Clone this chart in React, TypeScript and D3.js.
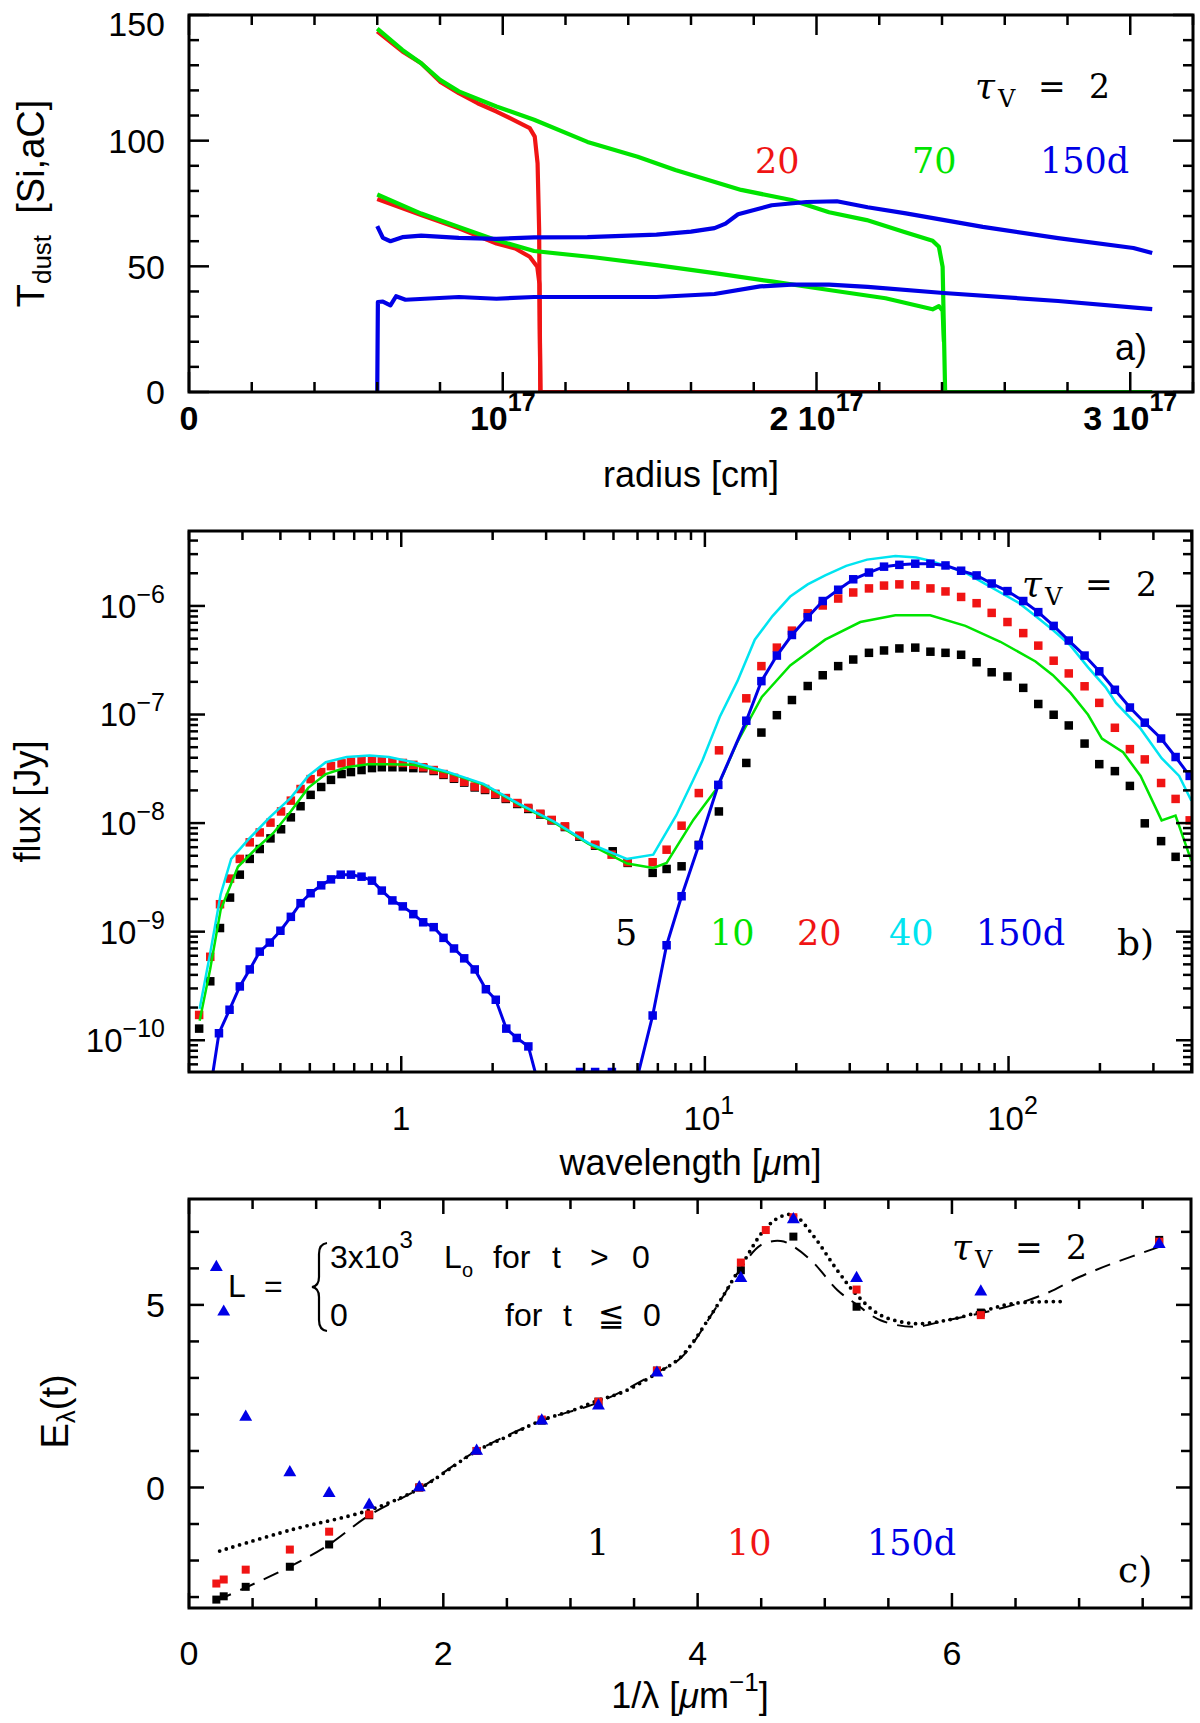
import React from "react";
import * as d3 from "d3";

type Pt = [number, number];
type Frame = { l: number; r: number; t: number; b: number };
type Tick = { p: number; major: boolean };

// ---------- panel a: dust temperature vs radius (radius in 1e17 cm) ----------
const tRed20Upper: Pt[] = [
  [0.6, 143.5], [0.68, 135.5], [0.74, 130.8], [0.8, 123.5], [0.86, 118.9], [0.92, 114.9],
  [0.98, 111.6], [1.045, 107.6], [1.086, 105], [1.102, 101.6], [1.111, 91], [1.116, 64.5],
  [1.118, 25], [1.12, 0], [2.4, 0],
];
const tRed20Lower: Pt[] = [
  [0.6, 76.8], [0.74, 70.4], [0.86, 65.1], [0.98, 59.1], [1.04, 57.1], [1.086, 53.8],
  [1.11, 49.8], [1.117, 43], [1.12, 0],
];
const tGreen70Upper: Pt[] = [
  [0.6, 144.6], [0.68, 136.1], [0.74, 130.8], [0.8, 124.2], [0.86, 119.6], [0.98, 113.6],
  [1.1, 108.3], [1.27, 99.5], [1.43, 93.6], [1.55, 88.3], [1.76, 80.4], [1.92, 76.4],
  [2.04, 71.5], [2.16, 68.4], [2.28, 63.7], [2.37, 60.2], [2.39, 57.8], [2.402, 49.8],
  [2.41, 0], [3.07, 0],
];
const tGreen70Lower: Pt[] = [
  [0.6, 78.6], [0.74, 71], [0.86, 65.7], [0.98, 60.4], [1.1, 56.1], [1.29, 53.6],
  [1.49, 50.5], [1.675, 47.3], [1.857, 44], [2.04, 40.6], [2.22, 37.3], [2.37, 32.9],
  [2.39, 34.2], [2.402, 32.4], [2.406, 20],
];
const tBlue150Upper: Pt[] = [
  [0.6, 66], [0.618, 61.3], [0.642, 60], [0.68, 61.6], [0.74, 62.2], [0.86, 61.3],
  [0.98, 60.9], [1.1, 61.5], [1.27, 61.6], [1.49, 62.6], [1.6, 63.8], [1.675, 65.2],
  [1.71, 67], [1.75, 70.7], [1.857, 74.3], [1.968, 75.6], [2.065, 75.9], [2.163, 73.5],
  [2.285, 71.1], [2.53, 65.7], [2.77, 61.2], [3.01, 57.3], [3.07, 55.3],
];
const tBlue150Lower: Pt[] = [
  [0.6, 0], [0.602, 35.8], [0.618, 36], [0.642, 34.5], [0.66, 38.1], [0.69, 36.7],
  [0.86, 37.8], [0.98, 37.1], [1.1, 37.8], [1.27, 37.8], [1.49, 37.8], [1.675, 39],
  [1.82, 42], [1.92, 42.7], [2.04, 42.7], [2.163, 41.8], [2.405, 39.4], [2.77, 36.2],
  [3.07, 33],
];
const radiusTicks = d3.range(0, 3.2001, 0.2);
const tempTicks = d3.range(0, 150.1, 10);

// ---------- panel b: flux [Jy] vs wavelength [um] ----------
const fBlack5d: Pt[] = [
  [0.216, 1.28e-10], [0.235, 3.49e-10], [0.253, 1.08e-9], [0.273, 2.06e-9], [0.294, 3.35e-9],
  [0.317, 4.68e-9], [0.342, 5.77e-9], [0.371, 7.23e-9], [0.402, 8.77e-9], [0.433, 1.13e-8],
  [0.466, 1.43e-8], [0.503, 1.82e-8], [0.545, 2.15e-8], [0.587, 2.5e-8], [0.636, 2.83e-8],
  [0.683, 2.95e-8], [0.74, 3.08e-8], [0.801, 3.21e-8], [0.863, 3.27e-8], [0.935, 3.27e-8],
  [1.012, 3.27e-8], [1.096, 3.21e-8], [1.181, 3.2e-8], [1.279, 3.02e-8], [1.378, 2.78e-8],
  [1.492, 2.56e-8], [1.612, 2.36e-8], [1.746, 2.13e-8], [1.888, 2.02e-8], [2.04, 1.83e-8],
  [2.21, 1.67e-8], [2.41, 1.5e-8], [2.62, 1.35e-8], [2.87, 1.2e-8], [3.13, 1.06e-8],
  [3.46, 9.2e-9], [3.86, 7.5e-9], [4.35, 6.2e-9], [4.97, 5.5e-9], [5.57, 4.3e-9],
  [6.73, 3.48e-9], [7.48, 3.78e-9], [8.38, 4.0e-9], [9.55, 6.3e-9], [11.12, 1.28e-8],
  [13.69, 3.58e-8], [15.35, 6.82e-8], [17.26, 9.86e-8], [19.35, 1.36e-7], [21.81, 1.83e-7],
  [24.44, 2.3e-7], [27.48, 2.79e-7], [30.8, 3.21e-7], [34.7, 3.7e-7], [38.9, 3.89e-7],
  [43.7, 4.06e-7], [49.3, 4.13e-7], [55.3, 3.79e-7], [62, 3.7e-7], [69.8, 3.55e-7],
  [78.5, 3.03e-7], [88, 2.45e-7], [99.2, 2.24e-7], [111.8, 1.76e-7], [125.3, 1.25e-7],
  [140.8, 9.95e-8], [157.9, 7.93e-8], [178, 5.4e-8], [199, 3.49e-8], [224, 3.01e-8],
  [251, 2.2e-8], [281, 9.95e-9], [318, 6.82e-9], [355, 4.89e-9],
];
const fGreen10d: Pt[] = [
  [0.2168, 1.51e-10], [0.2347, 4.49e-10], [0.2542, 1.58e-9], [0.2899, 3.96e-9], [0.3316, 5.77e-9],
  [0.3787, 8.07e-9], [0.4325, 1.28e-8], [0.494, 2.11e-8], [0.5642, 2.83e-8], [0.6615, 3.27e-8],
  [0.7762, 3.49e-8], [0.9102, 3.49e-8], [1.096, 3.44e-8], [1.43, 2.9e-8], [1.866, 2.26e-8],
  [2.433, 1.49e-8], [3.174, 1.02e-8], [4.14, 6.44e-9], [5.546, 4.24e-9], [6.76, 3.86e-9],
  [7.48, 4.3e-9], [9.16, 1.07e-8], [10.97, 2.1e-8], [12.8, 5.6e-8], [15.4, 1.45e-7],
  [19.1, 2.83e-7], [24.9, 4.89e-7], [32.5, 7.11e-7], [42.4, 8.2e-7], [55.2, 8.2e-7],
  [72.1, 6.55e-7], [94, 4.68e-7], [122.7, 3.08e-7], [140, 2.3e-7], [160, 1.58e-7],
  [182.8, 9.95e-8], [203, 6.01e-8], [238.4, 4.49e-8], [272.2, 2.72e-8], [319.3, 1.06e-8],
  [354.8, 1.175e-8], [400, 4.49e-9],
];
const fRed20d: Pt[] = [
  [0.216, 1.71e-10], [0.235, 5.87e-10], [0.253, 1.79e-9], [0.273, 3.08e-9], [0.294, 4.68e-9],
  [0.317, 6.65e-9], [0.342, 8.2e-9], [0.371, 1.01e-8], [0.402, 1.28e-8], [0.433, 1.61e-8],
  [0.466, 2.06e-8], [0.503, 2.54e-8], [0.545, 2.95e-8], [0.587, 3.35e-8], [0.636, 3.55e-8],
  [0.683, 3.67e-8], [0.74, 3.73e-8], [0.801, 3.79e-8], [0.863, 3.73e-8], [0.935, 3.64e-8],
  [1.012, 3.58e-8], [1.096, 3.44e-8], [1.181, 3.27e-8], [1.279, 3.08e-8], [1.378, 2.83e-8],
  [1.492, 2.61e-8], [1.612, 2.4e-8], [1.746, 2.17e-8], [1.888, 2.06e-8], [2.04, 1.86e-8],
  [2.21, 1.7e-8], [2.41, 1.53e-8], [2.62, 1.38e-8], [2.87, 1.22e-8], [3.13, 1.07e-8],
  [3.46, 9.33e-9], [3.86, 7.66e-9], [4.35, 6.32e-9], [4.93, 5.12e-9], [5.57, 4.36e-9],
  [6.73, 4.36e-9], [7.48, 5.69e-9], [8.38, 9.46e-9], [9.55, 1.89e-8], [11.13, 4.68e-8],
  [13.69, 1.41e-7], [15.35, 2.79e-7], [17.26, 4.13e-7], [19.35, 5.92e-7], [21.81, 8.55e-7],
  [24.44, 1.01e-6], [27.48, 1.17e-6], [30.8, 1.33e-6], [34.7, 1.45e-6], [38.9, 1.54e-6],
  [43.7, 1.58e-6], [49.3, 1.55e-6], [55.3, 1.45e-6], [62, 1.36e-6], [69.8, 1.21e-6],
  [78.5, 1.06e-6], [88, 8.63e-7], [99.2, 7.11e-7], [111.8, 5.62e-7], [125.3, 4.31e-7],
  [140.8, 3.13e-7], [157.9, 2.39e-7], [178, 1.82e-7], [199, 1.28e-7], [224, 7.55e-8],
  [251, 4.8e-8], [281, 3.86e-8], [318, 2.34e-8], [355, 1.67e-8], [395, 1.06e-8],
];
const fCyan40d: Pt[] = [
  [0.2168, 1.95e-10], [0.2347, 6.28e-10], [0.2542, 2.2e-9], [0.2754, 4.68e-9], [0.3144, 7.11e-9],
  [0.3687, 1.127e-8], [0.4325, 1.71e-8], [0.494, 2.72e-8], [0.5642, 3.64e-8], [0.6615, 4.06e-8],
  [0.7864, 4.2e-8], [0.9102, 4.06e-8], [1.096, 3.64e-8], [1.43, 2.95e-8], [1.866, 2.3e-8],
  [2.433, 1.51e-8], [3.174, 1.04e-8], [4.14, 6.55e-9], [5.53, 4.67e-9], [6.76, 5.12e-9],
  [8.045, 1.175e-8], [9.16, 2.51e-8], [9.82, 3.79e-8], [11.2, 9.53e-8], [12.8, 2.03e-7],
  [14.6, 4.89e-7], [16.7, 8.07e-7], [19.1, 1.22e-6], [21.8, 1.58e-6], [24.9, 1.91e-6],
  [29.2, 2.34e-6], [34.2, 2.67e-6], [42.4, 2.88e-6], [49.7, 2.79e-6], [55.2, 2.61e-6],
  [63.1, 2.3e-6], [72.1, 2.03e-6], [82.4, 1.64e-6], [94, 1.33e-6], [107.4, 1.08e-6],
  [122.7, 8.07e-7], [140, 6.01e-7], [160, 4.31e-7], [182.8, 2.72e-7], [208.6, 1.79e-7],
  [225.9, 1.28e-7], [272.2, 7.41e-8], [319.3, 3.96e-8], [364.7, 2.72e-8], [400, 1.61e-8],
];
const fBlue150d: Pt[] = [
  [0.216, 1.0e-11], [0.235, 3.5e-11], [0.251, 1.16e-10], [0.272, 1.91e-10], [0.294, 3.13e-10],
  [0.317, 4.49e-10], [0.342, 6.55e-10], [0.369, 7.94e-10], [0.4, 1.02e-9], [0.433, 1.37e-9],
  [0.466, 1.83e-9], [0.503, 2.26e-9], [0.545, 2.67e-9], [0.587, 3.03e-9], [0.632, 3.35e-9],
  [0.683, 3.35e-9], [0.74, 3.21e-9], [0.801, 2.95e-9], [0.863, 2.39e-9], [0.935, 1.94e-9],
  [1.012, 1.71e-9], [1.096, 1.45e-9], [1.181, 1.22e-9], [1.279, 1.1e-9], [1.378, 8.77e-10],
  [1.492, 7.0e-10], [1.612, 5.68e-10], [1.746, 4.49e-10], [1.9, 2.95e-10], [2.048, 2.36e-10],
  [2.218, 1.28e-10], [2.401, 1.05e-10], [2.622, 8.77e-11], [2.87, 3.4e-11], [3.13, 1.5e-11],
  [3.46, 2.5e-11], [3.88, 5.1e-11], [4.35, 5.1e-11], [4.94, 5.1e-11], [5.57, 2.0e-11],
  [6.73, 1.69e-10], [7.48, 7.5e-10], [8.38, 2.12e-9], [9.55, 6.24e-9], [11.07, 2.25e-8],
  [13.69, 8.77e-8], [15.35, 2.03e-7], [17.26, 3.49e-7], [19.35, 5.4e-7], [21.81, 7.87e-7],
  [24.44, 1.11e-6], [27.48, 1.41e-6], [30.8, 1.76e-6], [34.7, 2.03e-6], [38.9, 2.3e-6],
  [43.7, 2.39e-6], [49.3, 2.45e-6], [55.3, 2.45e-6], [62, 2.36e-6], [69.8, 2.11e-6],
  [78.5, 1.91e-6], [88, 1.61e-6], [99.2, 1.37e-6], [111.8, 1.11e-6], [125.3, 8.77e-7],
  [140.8, 6.55e-7], [157.9, 4.8e-7], [178, 3.49e-7], [199, 2.5e-7], [224, 1.69e-7],
  [251, 1.16e-7], [281, 8.41e-8], [318, 6.01e-8], [355, 4.06e-8], [395, 2.72e-8],
];

// ---------- panel c: E_lambda(t) vs 1/lambda [um^-1] ----------
const eBlack1d: Pt[] = [
  [0.215, -3.07], [0.273, -2.98], [0.446, -2.72], [0.793, -2.17], [1.102, -1.56], [1.417, -0.76],
  [1.811, 0], [2.262, 1.0], [2.774, 1.83], [3.22, 2.35], [3.68, 3.2], [4.34, 5.95],
  [4.753, 6.87], [5.25, 4.95], [6.227, 4.79], [7.63, 6.78],
];
const eRed10d: Pt[] = [
  [0.215, -2.63], [0.273, -2.52], [0.446, -2.25], [0.793, -1.7], [1.102, -1.21], [1.417, -0.74],
  [1.811, 0], [2.262, 1.0], [2.774, 1.86], [3.22, 2.35], [3.68, 3.2], [4.34, 6.16],
  [4.536, 7.05], [4.753, 7.4], [5.25, 5.42], [6.227, 4.72], [7.63, 6.73],
];
const eBlue150d: Pt[] = [
  [0.215, 6.03], [0.273, 4.81], [0.446, 1.93], [0.793, 0.41], [1.102, -0.16], [1.417, -0.48],
  [1.811, 0], [2.262, 1.0], [2.774, 1.83], [3.22, 2.24], [3.68, 3.14], [4.34, 5.73],
  [4.753, 7.34], [5.25, 5.73], [6.227, 5.36], [7.63, 6.66],
];
const eDotted: Pt[] = [
  [0.241, -1.74], [0.793, -1.17], [1.417, -0.62], [1.811, -0.03], [2.262, 1.0], [2.499, 1.39],
  [2.774, 1.84], [3.024, 2.12], [3.22, 2.39], [3.417, 2.62], [3.68, 3.13], [3.869, 3.58],
  [4.131, 4.86], [4.34, 6.05], [4.523, 7.05], [4.654, 7.42], [4.758, 7.46], [4.915, 6.87],
  [5.098, 5.95], [5.255, 5.26], [5.438, 4.72], [5.699, 4.49], [5.961, 4.58], [6.222, 4.81],
  [6.484, 5.04], [6.863, 5.09],
];
const eDashed: Pt[] = [
  [0.215, -3.1], [0.446, -2.74], [0.793, -2.17], [1.102, -1.56], [1.417, -0.76], [1.811, -0.03],
  [2.262, 1.0], [2.774, 1.83], [3.22, 2.33], [3.68, 3.15], [3.869, 3.55], [4.131, 4.85],
  [4.34, 6.0], [4.497, 6.64], [4.654, 6.75], [4.758, 6.59], [4.915, 6.14], [5.098, 5.41],
  [5.255, 5.0], [5.438, 4.58], [5.699, 4.4], [5.961, 4.58], [6.222, 4.77], [6.484, 5.0],
  [6.745, 5.32], [7.006, 5.77], [7.268, 6.14], [7.63, 6.59],
];
const invLamTicks = d3.range(0, 7.9, 0.5);
const eTicks = d3.range(-3, 7.9, 1);

const RED = "#f01414";
const GREEN = "#00e400";
const CYAN = "#00e4f0";
const BLUE = "#0000e6";
const SANS = "'Liberation Sans', Arial, Helvetica, sans-serif";
const SERIF = "'DejaVu Serif', serif";

const frA: Frame = { l: 189, r: 1193, t: 15, b: 392 };
const frB: Frame = { l: 189, r: 1192, t: 531, b: 1072 };
const frC: Frame = { l: 189, r: 1191, t: 1199, b: 1608 };

function Box({ f, xt, yt, maj, min, id }: { f: Frame; xt: Tick[]; yt: Tick[]; maj: number; min: number; id: string }) {
  return (
    <g stroke="#000" strokeWidth={2.5} fill="none">
      {xt.map((t, i) => {
        const L = t.major ? maj : min;
        return (
          <g key={id + "x" + i}>
            <line x1={t.p} x2={t.p} y1={f.b} y2={f.b - L} />
            <line x1={t.p} x2={t.p} y1={f.t} y2={f.t + L} />
          </g>
        );
      })}
      {yt.map((t, i) => {
        const L = t.major ? maj : min;
        return (
          <g key={id + "y" + i}>
            <line x1={f.l} x2={f.l + L} y1={t.p} y2={t.p} />
            <line x1={f.r} x2={f.r - L} y1={t.p} y2={t.p} />
          </g>
        );
      })}
      <rect x={f.l} y={f.t} width={f.r - f.l} height={f.b - f.t} strokeWidth={3} />
    </g>
  );
}

// "tau_V = 2" annotation, glyphs spread like the original
function Tau({ x, y }: { x: number; y: number }) {
  return (
    <g fontFamily={SERIF} fill="#000">
      <text x={x} y={y} fontSize={36} fontStyle="italic">τ</text>
      <text x={x + 23} y={y + 9} fontSize={24}>V</text>
      <text x={x + 63} y={y} fontSize={33}>=</text>
      <text x={x + 114} y={y} fontSize={33}>2</text>
    </g>
  );
}

function PanelA() {
  const x = d3.scaleLinear().domain([0, 3.2]).range([frA.l, frA.r]);
  const y = d3.scaleLinear().domain([0, 150]).range([frA.b, frA.t]);
  const line = d3.line<Pt>().x((d) => x(d[0])).y((d) => y(d[1]));
  const xt = radiusTicks.map((v) => ({ p: x(v), major: Math.abs(v - Math.round(v)) < 1e-6 }));
  const yt = tempTicks.map((v) => ({ p: y(v), major: v % 50 === 0 }));
  const xLabels = [
    { v: 0, pre: "0", sup: "" },
    { v: 1, pre: "10", sup: "17" },
    { v: 2, pre: "2 10", sup: "17" },
    { v: 3, pre: "3 10", sup: "17" },
  ];
  return (
    <g>
      <clipPath id="clipA">
        <rect x={frA.l} y={frA.t} width={frA.r - frA.l} height={frA.b - frA.t} />
      </clipPath>
      <g clipPath="url(#clipA)" fill="none" strokeWidth={4.2} strokeLinejoin="round">
        <path d={line(tRed20Lower) || ""} stroke={RED} />
        <path d={line(tRed20Upper) || ""} stroke={RED} />
        <path d={line(tGreen70Lower) || ""} stroke={GREEN} />
        <path d={line(tGreen70Upper) || ""} stroke={GREEN} />
        <path d={line(tBlue150Lower) || ""} stroke={BLUE} />
        <path d={line(tBlue150Upper) || ""} stroke={BLUE} />
      </g>
      <Box f={frA} xt={xt} yt={yt} maj={20} min={10} id="a" />
      {[0, 50, 100, 150].map((v) => (
        <text key={v} x={165} y={Math.max(y(v), frA.t + 9)} dy="0.36em" textAnchor="end" fontFamily={SANS} fontSize={34}>
          {v}
        </text>
      ))}
      {xLabels.map((d) => (
        <text key={d.v} x={x(d.v)} y={430} textAnchor="middle" fontFamily={SANS} fontSize={34} fontWeight="bold">
          {d.pre}
          {d.sup && (
            <tspan fontSize={25} dy={-19}>
              {d.sup}
            </tspan>
          )}
        </text>
      ))}
      <text x={(frA.l + frA.r) / 2} y={487} textAnchor="middle" fontFamily={SANS} fontSize={36}>
        radius [cm]
      </text>
      <text transform={`translate(44,${(frA.t + frA.b) / 2}) rotate(-90)`} textAnchor="middle" fontFamily={SANS} fontSize={38}>
        T<tspan fontSize={26} dy={7}>dust</tspan>
        <tspan dy={-7}>{"\u00a0\u00a0[Si,aC]"}</tspan>
      </text>
      <Tau x={975} y={98} />
      <text x={755} y={173} fontFamily={SERIF} fontSize={35} fill={RED}>20</text>
      <text x={912} y={173} fontFamily={SERIF} fontSize={35} fill={GREEN}>70</text>
      <text x={1040} y={173} fontFamily={SERIF} fontSize={35} fill={BLUE}>150d</text>
      <text x={1115} y={360} fontFamily={SANS} fontSize={36}>a)</text>
    </g>
  );
}

function PanelB() {
  const x = d3.scaleLog().domain([0.2, 402]).range([frB.l, frB.r]);
  const y = d3.scaleLog().domain([5.1e-11, 4.9e-6]).range([frB.b, frB.t]);
  const line = d3.line<Pt>().x((d) => x(d[0])).y((d) => y(d[1]));
  const isDecade = (v: number) => Math.abs(Math.log10(v) - Math.round(Math.log10(v))) < 1e-6;
  const xt = x.ticks().map((v) => ({ p: x(v), major: isDecade(v) }));
  const yt = y.ticks().map((v) => ({ p: y(v), major: isDecade(v) }));
  const sq = 8.5;
  const squares = (data: Pt[], color: string, key: string) =>
    data.map((d, i) => (
      <rect key={key + i} x={x(d[0]) - sq / 2} y={y(d[1]) - sq / 2} width={sq} height={sq} fill={color} />
    ));
  return (
    <g>
      <clipPath id="clipB">
        <rect x={frB.l} y={frB.t} width={frB.r - frB.l} height={frB.b - frB.t} />
      </clipPath>
      <g clipPath="url(#clipB)">
        {squares(fBlack5d, "#000", "k")}
        {squares(fRed20d, RED, "r")}
        <path d={line(fGreen10d) || ""} fill="none" stroke={GREEN} strokeWidth={2.5} />
        <path d={line(fCyan40d) || ""} fill="none" stroke={CYAN} strokeWidth={2.5} />
        <path d={line(fBlue150d) || ""} fill="none" stroke={BLUE} strokeWidth={3} />
        {squares(fBlue150d, BLUE, "b")}
      </g>
      <Box f={frB} xt={xt} yt={yt} maj={16} min={9} id="b" />
      {[-6, -7, -8, -9, -10].map((k) => (
        <text key={k} x={165} y={y(Math.pow(10, k))} dy="0.36em" textAnchor="end" fontFamily={SANS} fontSize={33}>
          10
          <tspan fontSize={25} dy={-15}>{"\u2212" + Math.abs(k)}</tspan>
        </text>
      ))}
      <text x={x(1)} y={1130} textAnchor="middle" fontFamily={SANS} fontSize={33}>1</text>
      {[1, 2].map((k) => (
        <text key={k} x={x(Math.pow(10, k)) + 4} y={1130} textAnchor="middle" fontFamily={SANS} fontSize={33}>
          10<tspan fontSize={25} dy={-16}>{k}</tspan>
        </text>
      ))}
      <text x={(frB.l + frB.r) / 2} y={1175} textAnchor="middle" fontFamily={SANS} fontSize={36}>
        wavelength [<tspan fontStyle="italic">μ</tspan>m]
      </text>
      <text transform={`translate(40,${(frB.t + frB.b) / 2}) rotate(-90)`} textAnchor="middle" fontFamily={SANS} fontSize={36}>
        flux [Jy]
      </text>
      <Tau x={1022} y={596} />
      <text x={615} y={945} fontFamily={SERIF} fontSize={35} fill="#000">5</text>
      <text x={710} y={945} fontFamily={SERIF} fontSize={35} fill={GREEN}>10</text>
      <text x={797} y={945} fontFamily={SERIF} fontSize={35} fill={RED}>20</text>
      <text x={889} y={945} fontFamily={SERIF} fontSize={35} fill={CYAN}>40</text>
      <text x={976} y={945} fontFamily={SERIF} fontSize={35} fill={BLUE}>150d</text>
      <text x={1117} y={955} fontFamily={SERIF} fontSize={36} fill="#000">b)</text>
    </g>
  );
}

function PanelC() {
  const x = d3.scaleLinear().domain([0, 7.88]).range([frC.l, frC.r]);
  const y = d3.scaleLinear().domain([-3.3, 7.9]).range([frC.b, frC.t]);
  const curve = d3.line<Pt>().x((d) => x(d[0])).y((d) => y(d[1])).curve(d3.curveCatmullRom);
  const xt = invLamTicks.map((v) => ({ p: x(v), major: v % 2 === 0 }));
  const yt = eTicks.map((v) => ({ p: y(v), major: v % 5 === 0 }));
  const sq = 8;
  const tri = d3.symbol().type(d3.symbolTriangle).size(72)() || "";
  const squares = (data: Pt[], color: string, key: string) =>
    data.map((d, i) => (
      <rect key={key + i} x={x(d[0]) - sq / 2} y={y(d[1]) - sq / 2} width={sq} height={sq} fill={color} />
    ));
  // brace of the luminosity definition
  const bx = 327, bt = 1243, bb = 1331, bm = (bt + bb) / 2;
  const brace = `M${bx},${bt} Q${bx - 8},${bt + 1} ${bx - 8},${bt + 11} L${bx - 8},${bm - 10} Q${bx - 8},${bm - 1} ${bx - 15},${bm} Q${bx - 8},${bm + 1} ${bx - 8},${bm + 10} L${bx - 8},${bb - 11} Q${bx - 8},${bb - 1} ${bx},${bb}`;
  return (
    <g>
      <clipPath id="clipC">
        <rect x={frC.l} y={frC.t} width={frC.r - frC.l} height={frC.b - frC.t} />
      </clipPath>
      <g clipPath="url(#clipC)">
        <path d={curve(eDashed) || ""} fill="none" stroke="#000" strokeWidth={2} strokeDasharray="16 10" />
        <path d={curve(eDotted) || ""} fill="none" stroke="#000" strokeWidth={3.8} strokeDasharray="0 7" strokeLinecap="round" />
        {squares(eBlack1d, "#000", "k")}
        {squares(eRed10d, RED, "r")}
        {eBlue150d.map((d, i) => (
          <path key={"t" + i} d={tri} transform={`translate(${x(d[0])},${y(d[1])})`} fill={BLUE} />
        ))}
      </g>
      <Box f={frC} xt={xt} yt={yt} maj={15} min={10} id="c" />
      {[0, 5].map((v) => (
        <text key={v} x={165} y={y(v)} dy="0.36em" textAnchor="end" fontFamily={SANS} fontSize={34}>
          {v}
        </text>
      ))}
      {[0, 2, 4, 6].map((v) => (
        <text key={v} x={x(v)} y={1665} textAnchor="middle" fontFamily={SANS} fontSize={34}>
          {v}
        </text>
      ))}
      <text x={(frC.l + frC.r) / 2} y={1708} textAnchor="middle" fontFamily={SANS} fontSize={36}>
        1/λ [<tspan fontStyle="italic">μ</tspan>m<tspan fontSize={26} dy={-17}>{"\u22121"}</tspan>
        <tspan dy={17}>]</tspan>
      </text>
      <text transform={`translate(68,${(frC.t + frC.b) / 2 + 8}) rotate(-90)`} textAnchor="middle" fontFamily={SANS} fontSize={38}>
        E<tspan fontSize={26} dy={7}>λ</tspan>
        <tspan dy={-7}>(t)</tspan>
      </text>
      <g fontFamily={SANS} fontSize={32} fill="#000">
        <text x={228} y={1297}>L</text>
        <text x={264} y={1297}>=</text>
        <path d={brace} fill="none" stroke="#000" strokeWidth={2.2} />
        <text x={330} y={1268}>
          3x10<tspan fontSize={24} dy={-20}>3</tspan>
        </text>
        <text x={444} y={1268}>L</text>
        <text x={462} y={1277} fontSize={20}>o</text>
        <text x={493} y={1268}>for</text>
        <text x={552} y={1268}>t</text>
        <text x={590} y={1268}>&gt;</text>
        <text x={632} y={1268}>0</text>
        <text x={330} y={1326}>0</text>
        <text x={505} y={1326}>for</text>
        <text x={563} y={1326}>t</text>
        <text x={598} y={1326} fontFamily="'DejaVu Sans', sans-serif">≦</text>
        <text x={643} y={1326}>0</text>
      </g>
      <Tau x={952} y={1259} />
      <text x={587} y={1555} fontFamily={SERIF} fontSize={35} fill="#000">1</text>
      <text x={727} y={1555} fontFamily={SERIF} fontSize={35} fill={RED}>10</text>
      <text x={867} y={1555} fontFamily={SERIF} fontSize={35} fill={BLUE}>150d</text>
      <text x={1118} y={1582} fontFamily={SERIF} fontSize={36} fill="#000">c)</text>
    </g>
  );
}

export default function App() {
  return (
    <svg
      width={1200}
      height={1723}
      viewBox="0 0 1200 1723"
      style={{ position: "absolute", left: 0, top: 0, background: "#fff" }}
    >
      <rect width={1200} height={1723} fill="#fff" />
      <PanelA />
      <PanelB />
      <PanelC />
    </svg>
  );
}
